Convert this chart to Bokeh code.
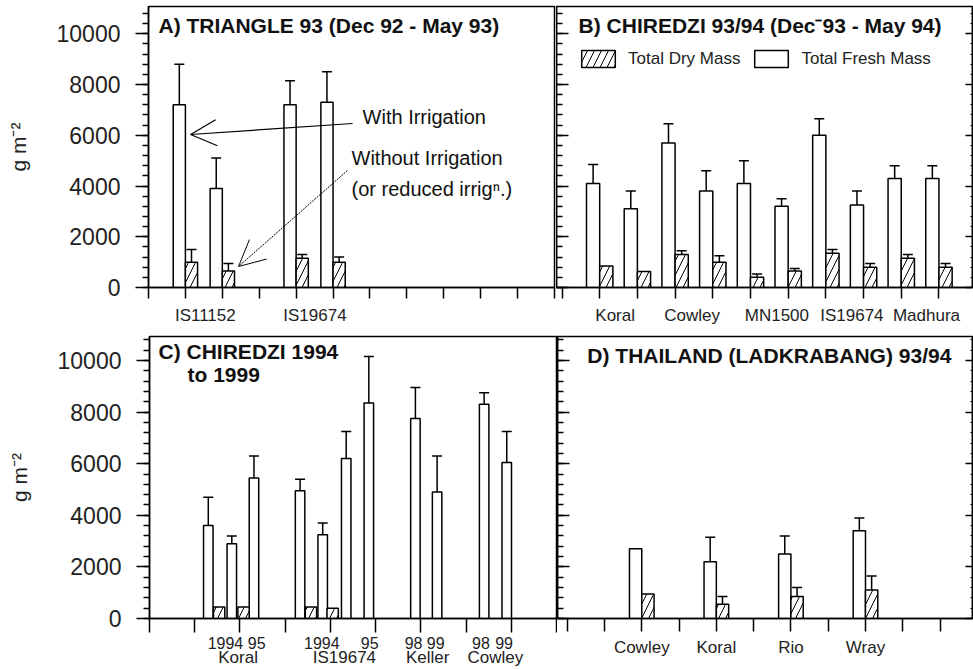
from bokeh.plotting import figure
from bokeh.models import (Range1d, FixedTicker, LinearAxis, ColumnDataSource, Whisker,
                          TeeHead, Label, Arrow, OpenHead, Legend, LegendItem)
from bokeh.layouts import column, row
from bokeh.embed import file_html
from bokeh.resources import INLINE

# ---------------- data (g m-2) ----------------
# A) Triangle 93: each variety with / without irrigation
a_slot = [1, 2, 4, 5]
a_fresh = [7200, 3900, 7200, 7300]
a_fresh_err = [1600, 1200, 950, 1200]
a_dry = [1000, 650, 1150, 1000]
a_dry_err = [500, 300, 150, 200]
a_varieties = ["IS11152", "IS19674"]

# B) Chiredzi 93/94
b_slot = [1, 2, 3, 4, 5, 6, 7, 8, 9, 10]
b_fresh = [4100, 3100, 5700, 3800, 4100, 3200, 6000, 3250, 4300, 4300]
b_fresh_err = [750, 700, 750, 800, 900, 300, 650, 550, 500, 500]
b_dry = [850, 630, 1300, 1000, 400, 650, 1350, 800, 1150, 800]
b_dry_err = [0, 0, 150, 250, 130, 100, 150, 150, 150, 150]
b_varieties = ["Koral", "Cowley", "MN1500", "IS19674", "Madhura"]

# C) Chiredzi 1994 to 1999
c_fresh_slot = [1.30, 1.82, 2.31, 3.33, 3.83, 4.35, 4.85, 5.88, 6.36, 7.40, 7.90]
c_fresh = [3600, 2900, 5450, 4950, 3250, 6200, 8350, 7750, 4900, 8300, 6050]
c_fresh_err = [1100, 300, 850, 450, 450, 1050, 1800, 1200, 1400, 450, 1200]
c_dry_slot = [1.54, 2.08, 3.57, 4.05]
c_dry = [450, 450, 450, 400]
c_dry_err = [0, 0, 0, 0]
c_years = ["1994", "95", "1994", "95", "98", "99", "98", "99"]
c_varieties = ["Koral", "IS19674", "Keller", "Cowley"]

# D) Thailand (Ladkrabang) 93/94
d_slot = [2, 4, 6, 8]
d_fresh = [2700, 2200, 2500, 3400]
d_fresh_err = [0, 950, 700, 500]
d_dry = [950, 550, 850, 1100]
d_dry_err = [0, 300, 350, 550]
d_varieties = ["Cowley", "Koral", "Rio", "Wray"]

y_major = [0, 2000, 4000, 6000, 8000, 10000]
y_minor = list(range(0, 11000, 400))

# ---------------- styling ----------------
FONT = "Liberation Sans"
INK = "black"
LW = 1.5


def panel(width, height, xr, ytop, left, right, top, bottom):
    p = figure(width=width, height=height, x_range=Range1d(*xr), y_range=Range1d(0, ytop),
               output_backend="svg", toolbar_location=None,
               min_border_left=left, min_border_right=right,
               min_border_top=top, min_border_bottom=bottom)
    p.grid.visible = False
    p.outline_line_color = INK
    p.outline_line_width = LW
    p.background_fill_color = "white"
    p.border_fill_color = "white"
    return p


def hidden_labels(ax, ticks):
    ax.major_label_text_font_size = "0px"
    ax.major_label_standoff = 0
    ax.major_label_overrides = {t: "" for t in ticks}


def y_outer(p):
    ax = p.yaxis[0]
    ax.ticker = FixedTicker(ticks=y_major, minor_ticks=y_minor)
    ax.axis_line_color = INK
    ax.axis_line_width = LW
    ax.major_tick_line_width = LW
    ax.minor_tick_line_width = LW
    ax.major_tick_in = 0
    ax.major_tick_out = 13
    ax.minor_tick_in = 0
    ax.minor_tick_out = 6
    ax.major_label_text_font = FONT
    ax.major_label_text_font_size = "23px"
    ax.major_label_text_color = "#222222"
    ax.major_label_standoff = 15
    ax.axis_label = "g m⁻²"
    ax.axis_label_text_font = FONT
    ax.axis_label_text_font_size = "21px"
    ax.axis_label_text_font_style = "normal"
    ax.axis_label_text_color = "#222222"
    ax.axis_label_standoff = 24


def y_inner(p):
    ax = p.yaxis[0]
    ax.ticker = FixedTicker(ticks=y_major, minor_ticks=y_minor)
    ax.axis_line_color = INK
    ax.axis_line_width = LW
    ax.major_tick_line_width = LW
    ax.minor_tick_line_width = LW
    ax.major_tick_in = 12
    ax.major_tick_out = 0
    ax.minor_tick_in = 6
    ax.minor_tick_out = 0
    hidden_labels(ax, y_major)
    rax = LinearAxis(ticker=FixedTicker(ticks=y_major, minor_ticks=y_minor),
                     axis_line_color=INK, axis_line_width=LW,
                     major_tick_line_width=LW, minor_tick_line_width=1,
                     major_tick_in=7, major_tick_out=0, minor_tick_in=2, minor_tick_out=0)
    hidden_labels(rax, y_major)
    p.add_layout(rax, "right")


def x_ticks(p, n, tick_len):
    ax = p.xaxis[0]
    ticks = list(range(0, n + 1))
    ax.ticker = FixedTicker(ticks=ticks, minor_ticks=[])
    ax.axis_line_color = INK
    ax.axis_line_width = LW
    ax.major_tick_line_width = LW
    ax.major_tick_in = 0
    ax.major_tick_out = tick_len
    hidden_labels(ax, ticks)


def x_names(p, positions, names, size, standoff):
    ax = LinearAxis(ticker=FixedTicker(ticks=positions, minor_ticks=[]),
                    major_label_overrides=dict(zip(positions, names)),
                    axis_line_color=None, major_tick_line_color=None,
                    minor_tick_line_color=None,
                    major_label_text_font=FONT, major_label_text_font_size=size,
                    major_label_text_color="#222222",
                    major_label_standoff=standoff)
    p.add_layout(ax, "below")


def bars(p, xs, vals, errs, width, hatched):
    src = ColumnDataSource(dict(x=xs, top=vals))
    kw = dict(fill_color="white", line_color=INK, line_width=LW)
    if hatched:
        kw.update(hatch_pattern="/", hatch_color=INK, hatch_scale=14, hatch_weight=1)
    r = p.vbar(x="x", top="top", width=width, bottom=0, source=src, **kw)
    keep = [(x, v, v + e) for x, v, e in zip(xs, vals, errs) if e > 0]
    if keep:
        wsrc = ColumnDataSource(dict(x=[k[0] for k in keep],
                                     lower=[k[1] for k in keep],
                                     upper=[k[2] for k in keep]))
        p.add_layout(Whisker(source=wsrc, base="x", lower="lower", upper="upper",
                             dimension="height", line_color=INK, line_width=LW,
                             lower_head=None,
                             upper_head=TeeHead(size=10, line_color=INK, line_width=LW)))
    return r


def note(p, x, y, text, size="20px", bold=False):
    p.add_layout(Label(x=x, y=y, text=text, text_font=FONT, text_font_size=size,
                       text_font_style="bold" if bold else "normal",
                       text_color="#111111", text_baseline="middle", text_align="left"))


# ---------------- A ----------------
wa = 0.33
pa = panel(556, 330, (0, 11), 11076, 148, 2, 6, 43)
y_outer(pa)
x_ticks(pa, 11, 11)
x_names(pa, [1.54, 4.51], a_varieties, "17px", 1)
bars(pa, [s - wa / 2 for s in a_slot], a_fresh, a_fresh_err, wa, False)
bars(pa, [s + wa / 2 for s in a_slot], a_dry, a_dry_err, wa, True)
note(pa, 0.27, 10330, "A) TRIANGLE 93 (Dec 92 - May 93)", size="21px", bold=True)
note(pa, 5.8, 6740, "With Irrigation")
note(pa, 5.5, 5085, "Without Irrigation")
note(pa, 5.5, 3900, "(or reduced irrigⁿ.)")
pa.add_layout(Arrow(x_start=5.53, y_start=6464, x_end=1.14, y_end=6031,
                    line_color=INK, line_width=1.2,
                    end=OpenHead(size=26, line_color=INK, line_width=1.2)))
pa.add_layout(Arrow(x_start=5.39, y_start=4612, x_end=2.44, y_end=828,
                    line_color=INK, line_width=1, line_dash="2 1",
                    end=OpenHead(size=26, line_color=INK, line_width=1)))

# ---------------- B ----------------
wb = 0.35
pb = panel(417, 330, (-0.146, 10.89), 11076, 0, 1, 6, 43)
y_inner(pb)
x_ticks(pb, 10, 11)
x_names(pb, [1.41, 3.45, 5.7, 7.69, 9.67], b_varieties, "17px", 1)
rf = bars(pb, [s - wb / 2 for s in b_slot], b_fresh, b_fresh_err, wb, False)
rd = bars(pb, [s + wb / 2 for s in b_slot], b_dry, b_dry_err, wb, True)
note(pb, 0.44, 10330, "B) CHIREDZI 93/94 (Dec⁻93 - May 94)", size="21px", bold=True)
leg = Legend(items=[LegendItem(label="Total Dry Mass", renderers=[rd]),
                    LegendItem(label="Total Fresh Mass", renderers=[rf])],
             orientation="horizontal", location=(21, 218),
             glyph_width=42, glyph_height=21, label_standoff=9, spacing=10,
             padding=0, margin=0, border_line_color=None, background_fill_alpha=0,
             label_text_font=FONT, label_text_font_size="17px",
             label_text_color="#222222")
pb.add_layout(leg)

# ---------------- C ----------------
pc = panel(557, 339, (0, 9), 10930, 149, 1, 6, 51)
y_outer(pc)
x_ticks(pc, 9, 14)
x_names(pc, [1.68, 2.37, 3.81, 4.87, 5.84, 6.33, 7.33, 7.84], c_years, "16px", -2)
x_names(pc, [1.96, 4.31, 6.15, 7.65], c_varieties, "17px", -10)
bars(pc, c_fresh_slot, c_fresh, c_fresh_err, 0.21, False)
bars(pc, c_dry_slot, c_dry, c_dry_err, 0.25, True)
note(pc, 0.2, 10349, "C) CHIREDZI 1994", size="21px", bold=True)
note(pc, 0.84, 9457, "to 1999", size="21px", bold=True)

# ---------------- D ----------------
wd = 0.33
pd_ = panel(416, 339, (-0.26, 10.87), 10930, 0, 1, 6, 51)
y_inner(pd_)
x_ticks(pd_, 10, 13)
x_names(pd_, [2, 4, 6, 8], d_varieties, "17px", 0)
bars(pd_, [s - wd / 2 for s in d_slot], d_fresh, d_fresh_err, wd, False)
bars(pd_, [s + wd / 2 for s in d_slot], d_dry, d_dry_err, wd, True)
note(pd_, 0.54, 10194, "D) THAILAND (LADKRABANG) 93/94", size="21px", bold=True)

layout = column(row(pa, pb), row(pc, pd_))
open("out.html", "w").write(file_html(layout, INLINE))
